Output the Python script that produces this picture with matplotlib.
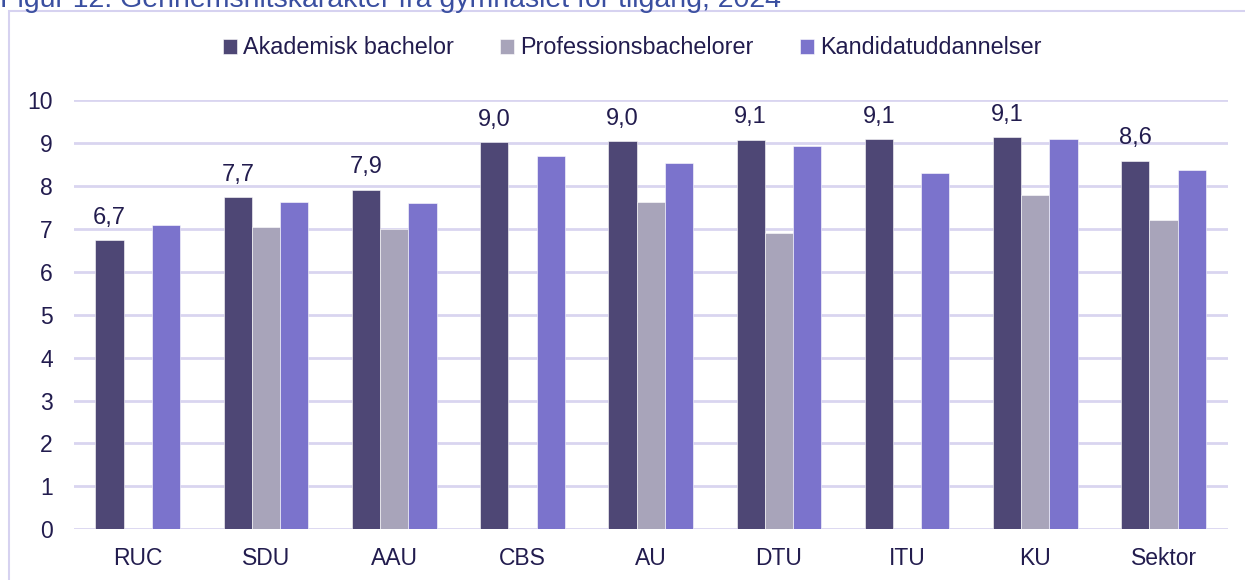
import numpy as np
import matplotlib
matplotlib.use('Agg')
import matplotlib.pyplot as plt
from matplotlib.patches import Rectangle

# Data
categories = ['RUC', 'SDU', 'AAU', 'CBS', 'AU', 'DTU', 'ITU', 'KU', 'Sektor']
akademisk = [6.73, 7.73, 7.91, 9.02, 9.04, 9.07, 9.09, 9.13, 8.59]
profession = [np.nan, 7.04, 6.99, np.nan, 7.62, 6.91, np.nan, 7.79, 7.20]
kandidat = [7.09, 7.63, 7.60, 8.70, 8.54, 8.92, 8.31, 9.10, 8.38]
series_names = ['Akademisk bachelor', 'Professionsbachelorer', 'Kandidatuddannelser']
title = 'Figur 12: Gennemsnitskarakter fra gymnasiet for tilgang, 2024'

colors = ['#4E4775', '#A8A4BA', '#7B73CC']
text_col = '#221C4E'
grid_col = '#D9D5F0'

plt.rcParams['font.family'] = ['Liberation Sans', 'DejaVu Sans']

fig = plt.figure(figsize=(12.45, 5.8), dpi=100)
ax = fig.add_axes([73.7 / 1245, 1 - 529.3 / 580, (1227.7 - 73.7) / 1245, (529.3 - 100) / 580])

x = np.arange(len(categories))
w = 0.22
for i, (vals, name) in enumerate(zip([akademisk, profession, kandidat], series_names)):
    vals = np.array(vals, dtype=float)
    ax.bar(x + (i - 1) * w, vals, width=w, color=colors[i], label=name,
           edgecolor='white', linewidth=0.4, zorder=3)

# value labels over akademisk bachelor
for xi, v in zip(x, akademisk):
    ax.annotate(f"{v:.1f}".replace('.', ','), (xi - w, v), xytext=(0, 11.9),
                textcoords='offset points', ha='center', va='baseline',
                fontsize=17, color=text_col)

ax.set_xlim(-0.5, len(categories) - 0.5)
ax.set_ylim(0, 10)
ax.set_yticks(range(0, 11))
ax.set_xticks(x)
ax.set_xticklabels(categories)
ax.tick_params(axis='both', length=0, labelsize=16.5, labelcolor=text_col)
ax.tick_params(axis='y', pad=15)
ax.tick_params(axis='x', pad=13)
ax.grid(axis='y', color=grid_col, linewidth=2, zorder=0)
for s in ax.spines.values():
    s.set_visible(False)

fig.legend(loc='center', bbox_to_anchor=(632 / 1245, 1 - 48 / 580), ncol=3, frameon=False,
           fontsize=16.8, labelcolor=text_col, handlelength=0.6, handleheight=0.6,
           handletextpad=0.25, columnspacing=2.0)

# outer frame (cut by the image edges)
fig.patches.append(Rectangle((9 / 1245, -0.2), 1.2, 1.2 - 11 / 580, fill=False,
                             edgecolor='#D6D2F0', linewidth=1.5, transform=fig.transFigure))

# title, mostly cut off at the top like in the source
fig.text(0.0, 1 - 7 / 580, title, ha='left', va='baseline', fontsize=20.5, color='#3A4FA0')

fig.savefig('out.png', dpi=100)
